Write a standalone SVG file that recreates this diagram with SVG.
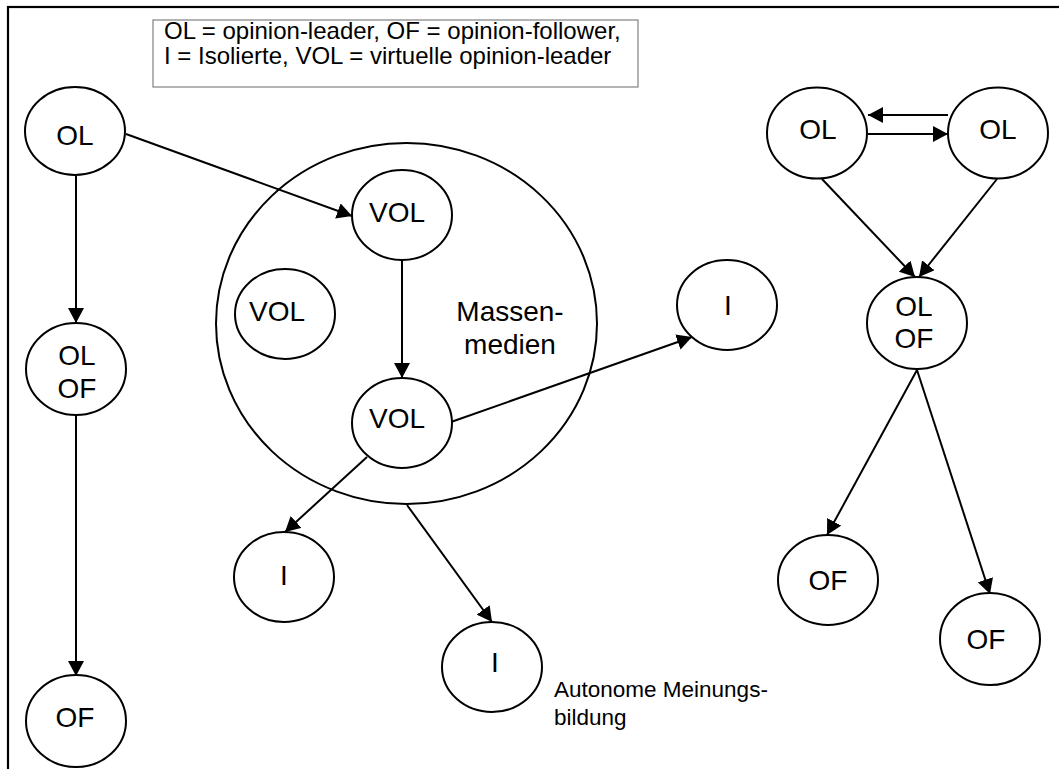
<svg xmlns="http://www.w3.org/2000/svg" width="1059" height="769" viewBox="0 0 1059 769">
<style>
  .n ellipse { fill: #ffffff; stroke: #000000; stroke-width: 2; }
  .t { font-family: "Liberation Sans", Arial, sans-serif; font-size: 28px; fill: #000000; text-anchor: middle; }
  .leg { font-family: "Liberation Sans", Arial, sans-serif; font-size: 24px; fill: #000000; }
  .lbl { font-family: "Liberation Sans", Arial, sans-serif; font-size: 22.5px; fill: #000000; }
  .c line { stroke: #000000; stroke-width: 2; fill: none; }
  .c line.a { marker-end: url(#ah); }
</style>
<defs>
  <marker id="ah" markerUnits="userSpaceOnUse" markerWidth="16" markerHeight="16" refX="15" refY="8" orient="auto" viewBox="0 0 16 16">
    <path d="M0,0 L15,8 L0,16 z" fill="#000000"/>
  </marker>
</defs>
<rect x="0" y="0" width="1059" height="769" fill="#ffffff"/>
<rect id="frame" x="8" y="7" width="1100" height="820" fill="none" stroke="#000000" stroke-width="2.2"/>
<g id="legend">
  <rect x="153" y="20" width="485" height="67" fill="#ffffff" stroke="#808080" stroke-width="1.2"/>
  <text class="leg" x="164" y="39">OL = opinion-leader, OF = opinion-follower,</text>
  <text class="leg" x="164" y="64">I = Isolierte, VOL = virtuelle opinion-leader</text>
</g>
<g id="massenmedien" class="n">
  <ellipse cx="406.5" cy="323.5" rx="190.5" ry="180.5"/>
  <text class="t" x="510" y="321">Massen-</text>
  <text class="t" x="510" y="354">medien</text>
</g>
<g class="c" id="connectors">
  <line class="a" x1="76" y1="176" x2="76" y2="323"/>
  <line class="a" x1="76" y1="415" x2="76" y2="676"/>
  <line class="a" x1="126" y1="134" x2="352" y2="216"/>
  <line class="a" x1="402" y1="260" x2="402" y2="378"/>
  <line class="a" x1="451" y1="422" x2="692" y2="337"/>
  <line class="a" x1="367" y1="457" x2="285" y2="532"/>
  <line class="a" x1="407" y1="505" x2="492" y2="622"/>
  <line class="a" x1="948" y1="115" x2="868" y2="115"/>
  <line class="a" x1="868" y1="134" x2="948" y2="134"/>
  <line class="a" x1="822" y1="179" x2="915" y2="277"/>
  <line class="a" x1="997" y1="179" x2="919" y2="277"/>
  <line class="a" x1="917" y1="370" x2="827" y2="535"/>
  <line class="a" x1="917" y1="370" x2="990" y2="594"/>
</g>
<g id="ol1" class="n"><ellipse cx="75" cy="131" rx="50" ry="44"/><text class="t" x="75" y="145">OL</text></g>
<g id="olof1" class="n"><ellipse cx="76" cy="369" rx="50" ry="46"/><text class="t" x="77" y="365">OL</text><text class="t" x="77" y="398">OF</text></g>
<g id="of1" class="n"><ellipse cx="76" cy="721" rx="50" ry="46"/><text class="t" x="75" y="727">OF</text></g>
<g id="vol1" class="n"><ellipse cx="402" cy="215" rx="50" ry="45"/><text class="t" x="397" y="222">VOL</text></g>
<g id="vol2" class="n"><ellipse cx="285" cy="314" rx="50" ry="45"/><text class="t" x="277" y="321">VOL</text></g>
<g id="vol3" class="n"><ellipse cx="402" cy="423" rx="50" ry="45"/><text class="t" x="397" y="428">VOL</text></g>
<g id="i1" class="n"><ellipse cx="727" cy="305" rx="50" ry="45"/><text class="t" x="728" y="315">I</text></g>
<g id="i2" class="n"><ellipse cx="284" cy="577" rx="50" ry="45"/><text class="t" x="284" y="585">I</text></g>
<g id="i3" class="n"><ellipse cx="492" cy="667" rx="50" ry="45"/><text class="t" x="495" y="672">I</text></g>
<g id="autonom">
  <text class="lbl" x="554" y="697">Autonome Meinungs-</text>
  <text class="lbl" x="554" y="725">bildung</text>
</g>
<g id="ol2" class="n"><ellipse cx="817" cy="133" rx="50" ry="45.5"/><text class="t" x="818" y="139">OL</text></g>
<g id="ol3" class="n"><ellipse cx="998" cy="133" rx="50" ry="45.5"/><text class="t" x="998" y="139">OL</text></g>
<g id="olof2" class="n"><ellipse cx="917" cy="323" rx="50" ry="46"/><text class="t" x="914" y="316">OL</text><text class="t" x="914" y="348">OF</text></g>
<g id="of2" class="n"><ellipse cx="828" cy="580" rx="50" ry="45"/><text class="t" x="828" y="590">OF</text></g>
<g id="of3" class="n"><ellipse cx="990" cy="639" rx="50" ry="46"/><text class="t" x="986" y="649">OF</text></g>
</svg>
